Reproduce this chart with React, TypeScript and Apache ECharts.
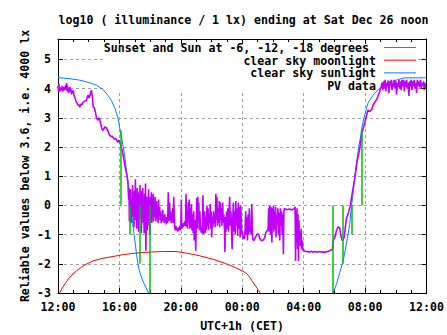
import React, { useEffect, useRef } from 'react';
import * as echarts from 'echarts';

const FONT = '"DejaVu Sans Mono", "Liberation Mono", monospace';
const FS = 11.6;

const titleText = 'log10 ( illuminance / 1 lx) ending at Sat Dec 26 noon';
const yAxisTitle = 'Reliable values below 3.6, i.e. 4000 lx';
const xAxisTitle = 'UTC+1h (CET)';

const xMin = 12;
const xMax = 36;
const xStep = 4;
const yMin = -3;
const yMax = 5.7;
const yStep = 1;

const legendNames = [
  'Sunset and Sun at -6, -12, -18 degrees',
  'clear sky moonlight',
  'clear sky sunlight',
  'PV data',
];
const colors = ['#00c000', '#ff0000', '#0080ff', '#c000ff'];

// sun at 0, -6, -12, -18 degrees (evening), then -18, -12, -6, 0 (morning), hours since Dec 25 00:00
const sunEventHours = [16.07, 16.7, 17.34, 17.97, 29.87, 30.52, 31.13, 31.81];
const sunEventFrom = [2.57, 0, 0, 0, 0, 0, 0, 2.57];
const sunEventTo = [0, -1, -2, -3, -3, -2, -1, 0];

const moonlight: [number, number][] = [
  [12.1, -3.0], [12.13, -2.97], [12.45, -2.68], [12.78, -2.45], [13.21, -2.24], [13.64, -2.07],
  [14.28, -1.9], [14.93, -1.81], [15.58, -1.75], [16.22, -1.69], [17.09, -1.63], [17.95, -1.6],
  [18.8, -1.58], [19.68, -1.58], [20.33, -1.63], [21.19, -1.72], [22.05, -1.84], [22.91, -1.99],
  [23.56, -2.13], [24.21, -2.3], [24.42, -2.41], [24.63, -2.58], [24.85, -2.75], [25.07, -2.92],
  [25.18, -3.0],
];

const sunlightEvening: [number, number][] = [
  [12, 4.38], [12.13, 4.37], [12.78, 4.34], [13.42, 4.29], [14.07, 4.2], [14.5, 4.12], [14.93, 3.97],
  [15.25, 3.77], [15.47, 3.6], [15.69, 3.35], [15.9, 3.01], [16.01, 2.68], [16.12, 2.4], [16.22, 2.08],
  [16.33, 1.75], [16.4, 1.45], [16.48, 1.1], [16.55, 0.85], [16.66, 0.4], [16.77, -0.07], [16.87, -0.64],
  [16.98, -1.1], [17.09, -1.56], [17.19, -1.96], [17.3, -2.24], [17.52, -2.59], [17.74, -2.82], [17.89, -3.0],
];

const sunlightMorning: [number, number][] = [
  [29.92, -3.0], [30.13, -2.7], [30.35, -2.3], [30.57, -1.9], [30.78, -1.33], [31.0, -0.64], [31.1, -0.07],
  [31.21, 0.39], [31.32, 0.96], [31.43, 1.42], [31.58, 2.0], [31.69, 2.3], [31.75, 2.55], [31.86, 2.85],
  [31.97, 3.1], [32.18, 3.5], [32.51, 3.77], [32.83, 3.95], [33.26, 4.12], [33.69, 4.23], [34.12, 4.31],
  [34.56, 4.37], [36, 4.37],
];

const pvAfternoon: [number, number][] = [
  [12.0, 4.1], [12.03, 3.9], [12.06, 4.17], [12.09, 3.89], [12.13, 4.05], [12.17, 3.92], [12.2, 4.0],
  [12.24, 3.95], [12.28, 4.1], [12.32, 3.9], [12.36, 4.05], [12.4, 3.96], [12.45, 4.0], [12.5, 4.12],
  [12.53, 3.95], [12.56, 4.2], [12.6, 3.92], [12.63, 4.1], [12.67, 3.85], [12.7, 4.0], [12.74, 3.9],
  [12.78, 4.06], [12.82, 3.88], [12.85, 3.98], [12.88, 3.8], [12.92, 3.92], [12.96, 3.85], [12.99, 3.95],
  [13.03, 3.8], [13.06, 3.74], [13.1, 3.7], [13.15, 3.6], [13.21, 3.52], [13.26, 3.48], [13.32, 3.42],
  [13.36, 3.46], [13.42, 3.36], [13.47, 3.44], [13.53, 3.48], [13.58, 3.45], [13.64, 3.54], [13.7, 3.55],
  [13.78, 3.58], [13.85, 3.6], [13.9, 3.7], [13.96, 3.78], [14.02, 3.68], [14.07, 3.74], [14.12, 3.85],
  [14.18, 3.95], [14.21, 3.8], [14.24, 3.72], [14.29, 3.37], [14.35, 3.36], [14.39, 3.3], [14.45, 3.15],
  [14.5, 3.02], [14.55, 2.95], [14.61, 2.92], [14.67, 3.0], [14.72, 2.95], [14.78, 2.8], [14.83, 2.68],
  [14.88, 2.6], [14.93, 2.57], [14.99, 2.62], [15.05, 2.7], [15.1, 2.65], [15.15, 2.68], [15.2, 2.6],
  [15.26, 2.55], [15.31, 2.45], [15.36, 2.4], [15.42, 2.38], [15.47, 2.35], [15.52, 2.38], [15.58, 2.32],
  [15.64, 2.3], [15.69, 2.27], [15.74, 2.3], [15.8, 2.26], [15.85, 2.2], [15.9, 2.16], [15.95, 2.24],
  [16.01, 2.2], [16.06, 2.1], [16.12, 2.0], [16.17, 1.9], [16.23, 1.75], [16.28, 1.6], [16.33, 1.45],
  [16.38, 1.3], [16.44, 1.15], [16.51, 0.95], [16.55, 0.8],
];

const pvEvening: [number, number][] = [
  [16.6, 0.2], [16.62, 0.6], [16.65, -0.55], [16.68, 0.3], [16.7, -0.3], [16.73, 0.55], [16.76, -0.6],
  [16.8, 0.2], [16.83, -0.4], [16.86, 0.7], [16.89, -0.2], [16.92, 0.4], [16.95, -0.75], [16.98, 0.5],
  [17.01, -0.3], [17.04, 0.9], [17.07, -0.5], [17.1, 0.3], [17.13, -0.8], [17.16, 0.6], [17.19, -0.1],
  [17.22, 0.45], [17.25, -0.9], [17.28, 0.2], [17.31, -0.45], [17.34, 0.7], [17.37, -0.2], [17.4, 0.35],
  [17.43, -0.95], [17.46, 0.5], [17.49, -0.3], [17.52, 0.6], [17.55, -0.6], [17.58, 0.1], [17.61, -0.95],
  [17.64, 0.4], [17.67, -0.2], [17.7, 0.75], [17.72, -1.55], [17.75, -0.5], [17.78, 0.3], [17.81, -0.85],
  [17.84, 0.2], [17.87, -0.4], [17.9, 0.55], [17.93, -0.7], [17.96, 0.1], [17.99, -0.98], [18.02, 0.3],
  [18.05, -0.35], [18.08, 0.45], [18.11, -0.6], [18.14, 0.2], [18.17, -0.3], [18.2, 0.4], [18.23, -0.55],
  [18.26, 0.05], [18.29, -0.4], [18.32, 0.3], [18.35, -0.2], [18.38, -0.55], [18.42, 0.15], [18.45, -0.45],
  [18.48, -0.1], [18.52, -0.6], [18.55, 0.2], [18.58, -0.35], [18.62, -0.05], [18.65, -0.5], [18.68, -0.2],
  [18.72, -0.6], [18.75, -0.3], [18.79, -0.55], [18.82, -0.15], [18.85, -0.5], [18.89, -0.4], [18.92, -0.6],
  [18.95, -0.3], [18.99, -0.55], [19.02, -0.45], [19.05, -0.65], [19.08, -0.4], [19.12, -0.6], [19.15, -0.35],
  [19.18, 0.45], [19.21, -0.3], [19.24, -0.55], [19.27, 0.1], [19.3, -0.5], [19.34, -0.2], [19.37, -0.6],
  [19.4, -0.4], [19.44, -0.55], [19.47, -0.1], [19.5, -0.6], [19.54, 0.3], [19.57, -0.3], [19.6, -0.75],
  [19.64, -0.85], [19.68, -0.7], [19.72, -0.85], [19.76, -0.8], [19.8, -0.9], [19.84, -0.75], [19.87, -0.85],
];

const pvNight: [number, number][] = [
  [19.9, -0.85], [19.93, -0.7], [19.96, -0.85], [20.0, -0.75], [20.03, 0.2], [20.06, -0.8], [20.1, -0.65],
  [20.14, -0.75], [20.18, -0.6], [20.22, -0.7], [20.26, -0.55], [20.3, -0.7], [20.34, 0.4], [20.37, -0.75],
  [20.4, -0.2], [20.44, -0.8], [20.48, 0.1], [20.51, -0.6], [20.55, 0.2], [20.58, -0.8], [20.62, -0.1],
  [20.65, -0.75], [20.69, 0.05], [20.72, -0.85], [20.76, -0.3], [20.8, -0.95], [20.84, -0.2], [20.87, -1.2],
  [20.9, -0.5], [20.94, -0.9], [20.97, -1.55], [21.0, -0.6], [21.04, 0.25], [21.07, -0.8], [21.1, 0.3],
  [21.13, -0.5], [21.17, 0.1], [21.2, -0.85], [21.24, -0.2], [21.28, -0.7], [21.32, -0.9], [21.36, -0.95],
  [21.4, -0.85], [21.44, 0.35], [21.47, -0.98], [21.51, -0.9], [21.55, -0.2], [21.58, -0.95], [21.62, -0.4],
  [21.66, -0.85], [21.7, 0.0], [21.73, -0.7], [21.77, -0.1], [21.8, -0.85], [21.84, -0.3], [21.88, -0.6],
  [21.91, 0.05], [21.95, -0.8], [21.98, -0.2], [22.01, -1.1], [22.05, -0.4], [22.09, -0.75], [22.13, -0.2],
  [22.17, -0.6], [22.2, -0.3], [22.24, -0.75], [22.28, 0.4], [22.31, -0.5], [22.35, 0.3], [22.38, -0.7],
  [22.42, -0.1], [22.46, -0.6], [22.5, 0.15], [22.53, -0.75], [22.57, 0.1], [22.6, -0.5], [22.64, -0.1],
  [22.68, -0.7], [22.72, 0.1], [22.76, -0.6], [22.8, -0.3], [22.84, -0.8], [22.87, -1.6], [22.9, -0.4],
  [22.94, -0.9], [22.98, -0.2], [23.02, -0.8], [23.06, -0.1], [23.1, -0.9], [23.14, -0.3], [23.18, 0.3],
  [23.22, -0.7], [23.26, -0.2], [23.3, -0.9], [23.34, -1.5], [23.38, -0.5], [23.42, 0.1], [23.46, -0.9],
  [23.5, -0.2], [23.54, -1.0], [23.58, 0.15], [23.62, -0.7], [23.66, -0.1], [23.7, -1.05], [23.74, 0.1],
  [23.78, -0.8], [23.82, -0.05], [23.86, -1.1], [23.9, 0.0], [23.94, -0.6], [23.98, -1.0], [24.02, -0.9],
  [24.06, -1.15], [24.1, -1.1], [24.14, -1.15], [24.18, -0.9], [24.22, -0.2], [24.26, -1.0], [24.3, -0.4],
  [24.34, -1.2], [24.38, -0.3], [24.42, -1.0], [24.46, -0.1], [24.5, -0.9], [24.54, -0.75], [24.58, -1.0],
  [24.62, 0.06], [24.66, -0.8], [24.68, -1.15], [24.74, -1.21], [24.81, -1.15], [24.85, -1.1], [24.96, -0.98],
  [25.07, -0.99], [25.13, -1.12], [25.2, -1.18], [25.28, -1.21], [25.39, -1.17], [25.46, -1.1], [25.54, -0.92],
  [25.6, -0.89], [25.68, -0.81], [25.72, -0.1], [25.75, -0.9], [25.78, 0.0], [25.81, -0.5], [25.84, -1.0],
  [25.87, -0.05], [25.9, -0.7], [25.93, -1.27], [25.96, -0.1], [26.0, -0.4], [26.03, 0.0], [26.06, -0.9],
  [26.1, -0.2], [26.13, -0.8], [26.17, -0.05], [26.2, -1.1], [26.24, -0.3], [26.28, -0.6], [26.32, -0.1],
  [26.36, -1.0], [26.4, -0.25], [26.44, -1.2], [26.48, -0.1], [26.52, -0.7], [26.56, -0.2], [26.6, -1.0],
  [26.64, -0.3], [26.68, -1.67], [26.71, -0.2], [26.75, -0.1], [26.8, -0.12], [26.9, -0.15], [27.0, -0.13],
  [27.1, -0.12], [27.2, -0.16], [27.3, -0.13], [27.4, -0.11], [27.44, -0.05], [27.47, -1.9], [27.5, -0.2],
  [27.53, -1.3], [27.56, -0.1], [27.6, -1.5], [27.63, -0.3], [27.66, -1.9], [27.69, -0.5], [27.72, -1.2],
  [27.75, -0.9], [27.79, -1.4], [27.83, -0.8], [27.87, -1.5], [27.91, -1.2], [27.95, -1.55], [27.98, -1.5],
  [28.05, -1.57], [28.2, -1.58], [28.4, -1.6], [28.5, -1.57], [28.6, -1.6], [28.75, -1.58], [28.9, -1.6],
  [29.0, -1.58], [29.2, -1.6], [29.4, -1.6], [29.6, -1.57],
];

const pvMorning: [number, number][] = [
  [29.71, -1.55], [29.88, -1.5], [29.92, -1.2], [30.03, -1.1], [30.13, -0.87], [30.24, -0.73], [30.35, -0.78],
  [30.42, -1.04], [30.52, -1.21], [30.63, -1.1], [30.78, -0.46], [30.89, -0.29], [31.04, 0.0], [31.1, 0.23],
  [31.21, 0.57], [31.32, 0.91], [31.49, 1.54], [31.65, 1.94], [31.75, 2.34], [31.86, 2.6], [32.07, 3.03],
  [32.18, 3.26], [32.3, 3.22], [32.44, 3.29], [32.51, 3.43], [32.72, 3.6], [32.83, 3.72], [32.94, 3.89],
  [33.04, 4.06], [33.1, 4.2], [33.15, 3.95], [33.2, 4.25], [33.25, 4.0], [33.3, 4.3], [33.35, 3.9],
  [33.4, 4.2], [33.45, 4.05], [33.5, 4.28], [33.55, 3.85], [33.6, 4.25], [33.65, 4.1], [33.7, 4.3],
  [33.75, 3.95], [33.8, 4.2], [33.85, 4.05], [33.9, 4.3], [33.95, 4.0], [34.0, 4.25], [34.05, 3.8],
  [34.1, 4.2], [34.15, 4.05], [34.2, 4.3], [34.25, 4.0], [34.3, 4.25], [34.35, 3.95], [34.4, 4.3],
  [34.45, 4.1], [34.5, 4.3], [34.55, 3.9], [34.6, 4.25], [34.65, 4.05], [34.7, 4.3], [34.75, 4.0],
  [34.8, 4.2], [34.85, 3.75], [34.9, 4.25], [34.95, 4.1], [35.0, 4.3], [35.05, 3.95], [35.1, 4.25],
  [35.15, 4.1], [35.2, 4.3], [35.25, 4.0], [35.3, 4.2], [35.35, 3.85], [35.4, 4.3], [35.45, 4.1],
  [35.5, 4.25], [35.55, 4.05], [35.6, 4.3], [35.65, 4.0], [35.7, 4.2], [35.75, 4.1], [35.8, 4.25],
  [35.85, 3.95], [35.9, 4.2], [35.95, 4.0], [36.0, 4.15],
];

const fmtHour = (v: number) => {
  const h = Math.round(v) % 24;
  return (h < 10 ? '0' : '') + h + ':00';
};

const textBase = { fontFamily: FONT, fontSize: FS, fontWeight: 'bold' as const, fill: '#000' };

export default function App() {
  const ref = useRef<HTMLDivElement>(null);
  useEffect(() => {
    if (!ref.current) return;
    const chart = echarts.init(ref.current, undefined, { renderer: 'svg' });
    const frameLine = { show: true, onZero: false, lineStyle: { color: '#000', width: 1 } };
    const tick = { show: true, inside: true, length: 5, lineStyle: { color: '#000', width: 1 } };
    const minor = { show: true, splitNumber: 4, length: 3, lineStyle: { color: '#000', width: 1 } };
    const grid = { show: true, showMinLine: false, showMaxLine: false, lineStyle: { color: '#a0a0a0', width: 1, type: [3, 3] } };
    const labelStyle = { color: '#000', fontFamily: FONT, fontSize: FS, fontWeight: 'bold' };

    const legendRowY = [48, 60.7, 73.4, 86.1];
    const legendTextX = [369, 376, 376, 376];
    const legendGraphics: any[] = [
      { type: 'rect', shape: { x: 104, y: 40, width: 314, height: 52 }, style: { fill: '#fff' }, z: 1, silent: true },
    ];
    legendNames.forEach((name, i) => {
      legendGraphics.push({
        type: 'text', x: legendTextX[i], y: legendRowY[i], z: 3,
        style: { ...textBase, text: name, textAlign: 'right', textVerticalAlign: 'middle' },
      });
      legendGraphics.push({
        type: 'line', z: 3,
        shape: { x1: 384, y1: legendRowY[i] - 0.5, x2: 416, y2: legendRowY[i] - 0.5 },
        style: { stroke: colors[i], lineWidth: i === 3 ? 1.6 : 1 },
      });
    });

    const option: any = {
      animation: false,
      backgroundColor: '#fff',
      grid: { left: 58, right: 18, top: 39, bottom: 42 },
      xAxis: [
        {
          type: 'value', min: xMin, max: xMax, interval: xStep, position: 'bottom', z: 0,
          axisLine: frameLine, axisTick: tick, minorTick: minor,
          axisLabel: { ...labelStyle, formatter: fmtHour, margin: 8, lineHeight: 12 },
          splitLine: grid,
        },
        {
          type: 'value', min: xMin, max: xMax, interval: xStep, position: 'top', z: 5,
          axisLine: frameLine, axisTick: tick, minorTick: minor,
          axisLabel: { show: false }, splitLine: { show: false },
        },
      ],
      yAxis: [
        {
          type: 'value', min: yMin, max: yMax, interval: yStep, position: 'left', z: 0,
          axisLine: frameLine, axisTick: tick,
          axisLabel: {
            ...labelStyle, margin: 7,
            formatter: (v: number) => (Math.abs(v - Math.round(v)) < 1e-9 ? String(Math.round(v)) : ''),
          },
          splitLine: grid,
        },
        {
          type: 'value', min: yMin, max: yMax, interval: yStep, position: 'right', z: 5,
          axisLine: frameLine, axisTick: tick,
          axisLabel: { show: false }, splitLine: { show: false },
        },
      ],
      series: [
        {
          type: 'line', name: legendNames[1], data: moonlight, showSymbol: false, z: 2,
          lineStyle: { color: colors[1], width: 1 }, silent: true,
        },
        {
          type: 'line', name: legendNames[2], data: sunlightEvening, showSymbol: false, z: 2,
          lineStyle: { color: colors[2], width: 1 }, silent: true,
        },
        {
          type: 'line', name: legendNames[2] + ' 2', data: sunlightMorning, showSymbol: false, z: 2,
          lineStyle: { color: colors[2], width: 1 }, silent: true,
        },
        {
          type: 'line', name: legendNames[3], data: [...pvAfternoon, ...pvEvening, ...pvNight, ...pvMorning],
          showSymbol: false, z: 3, lineStyle: { color: colors[3], width: 1.6 }, silent: true,
        },
        {
          type: 'lines', name: legendNames[0], coordinateSystem: 'cartesian2d', z: 4, silent: true,
          lineStyle: { color: colors[0], width: 1.5, opacity: 1 },
          data: sunEventHours.map((h, i) => ({ coords: [[h, sunEventFrom[i]], [h, sunEventTo[i]]] })),
        },
      ],
      graphic: [
        {
          type: 'text', x: 243.5, y: 19.5, z: 3,
          style: { ...textBase, text: titleText, textAlign: 'center', textVerticalAlign: 'middle' },
        },
        {
          type: 'text', x: 25, y: 166, rotation: Math.PI / 2, z: 3,
          style: { ...textBase, text: yAxisTitle, textAlign: 'center', textVerticalAlign: 'middle' },
        },
        {
          type: 'text', x: 242, y: 325.5, z: 3,
          style: { ...textBase, text: xAxisTitle, textAlign: 'center', textVerticalAlign: 'middle' },
        },
        ...legendGraphics,
      ],
    };
    chart.setOption(option);
    return () => chart.dispose();
  }, []);
  return (
    <div
      ref={ref}
      style={{ position: 'fixed', left: 0, top: 0, width: 447, height: 335, background: '#fff' }}
    />
  );
}
